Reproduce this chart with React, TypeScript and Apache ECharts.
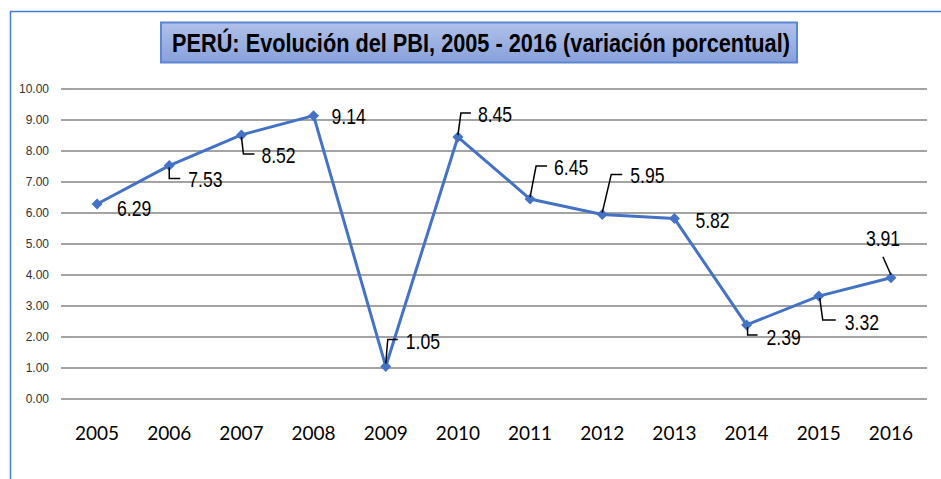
import React, { useEffect, useRef } from "react";
import * as echarts from "echarts";

const years = ["2005", "2006", "2007", "2008", "2009", "2010", "2011", "2012", "2013", "2014", "2015", "2016"];
const pbiGrowth = [6.29, 7.53, 8.52, 9.14, 1.05, 8.45, 6.45, 5.95, 5.82, 2.39, 3.32, 3.91];
const yTicks = { min: 0, max: 10, interval: 1 };
const titleText = "PERÚ: Evolución del PBI, 2005 - 2016 (variación porcentual)";

// label placement relative to the marker (style only): text left/middle offset and leader polyline
const labelPlacement: { dx: number; dy: number; leader: number[][] | null }[] = [
  { dx: 20, dy: 4, leader: null },
  { dx: 19, dy: 14, leader: [[0, 2], [0, 13], [11, 13]] },
  { dx: 20, dy: 20, leader: [[0, 2], [2, 19], [13, 19]] },
  { dx: 18, dy: 1, leader: null },
  { dx: 20, dy: -25, leader: [[0, -3], [2, -27], [12, -27]] },
  { dx: 20, dy: -23, leader: [[0, -2], [3, -24], [13, -24]] },
  { dx: 24, dy: -32, leader: [[0, -2], [6, -33], [17, -33]] },
  { dx: 28, dy: -39, leader: [[0, -2], [9, -40], [20, -40]] },
  { dx: 21, dy: 2, leader: null },
  { dx: 20, dy: 12, leader: [[1, 2], [1, 10], [11, 10]] },
  { dx: 26, dy: 26, leader: [[1, 2], [4, 24], [17, 24]] },
  { dx: -25, dy: -40, leader: [[0, -3], [-8, -21]] },
];

const SANS = "'Liberation Sans', Arial, sans-serif";

export default function App() {
  const ref = useRef<HTMLDivElement>(null);
  useEffect(() => {
    if (!ref.current) return;
    const chart = echarts.init(ref.current, null, { renderer: "svg" });
    chart.setOption({
      animation: false,
      backgroundColor: "#ffffff",
      grid: { left: 61, right: 14, top: 89, bottom: 80, containLabel: false },
      xAxis: {
        type: "category",
        data: years,
        boundaryGap: true,
        axisLine: { show: false },
        axisTick: { show: false },
        axisLabel: { color: "#000000", fontFamily: "Lato, 'Open Sans', sans-serif", fontSize: 19, margin: 24 },
      },
      yAxis: {
        type: "value",
        min: yTicks.min,
        max: yTicks.max,
        interval: yTicks.interval,
        axisLine: { show: false },
        axisTick: { show: false },
        axisLabel: {
          color: "#333333",
          fontFamily: SANS,
          fontSize: 12,
          margin: 12,
          formatter: (v: number) => v.toFixed(2),
        },
        splitLine: { lineStyle: { color: "#a3a3a3", width: 2 } },
      },
      series: [
        {
          type: "line",
          data: pbiGrowth,
          symbol: "diamond",
          symbolSize: 11,
          lineStyle: { color: "#4472c4", width: 3 },
          itemStyle: { color: "#4472c4" },
          z: 3,
        },
        {
          type: "custom",
          data: pbiGrowth.map((v, i) => [i, v]),
          encode: { x: 0, y: 1 },
          z: 4,
          silent: true,
          renderItem: (params: any, api: any) => {
            const i = params.dataIndex;
            const v = api.value(1);
            const p = api.coord([api.value(0), v]);
            const pl = labelPlacement[i];
            const children: any[] = [
              {
                type: "text",
                x: p[0] + pl.dx,
                y: p[1] + pl.dy,
                scaleX: 0.8,
                style: {
                  text: (v as number).toFixed(2),
                  fontSize: 22,
                  fontFamily: SANS,
                  fill: "#000000",
                  align: "left",
                  verticalAlign: "middle",
                },
              },
            ];
            if (pl.leader) {
              children.push({
                type: "polyline",
                shape: { points: pl.leader.map((q) => [p[0] + q[0], p[1] + q[1]]) },
                style: { stroke: "#000000", lineWidth: 1.5, fill: null },
              });
            }
            return { type: "group", children };
          },
        },
      ],
      graphic: [
        {
          type: "rect",
          left: 8,
          top: 9,
          shape: { x: 0, y: 0, width: 1000, height: 1000 },
          style: { fill: "none", stroke: "#4a7bd0", lineWidth: 1.5 },
          silent: true,
        },
        {
          type: "rect",
          shape: { x: 161, y: 22.5, width: 636, height: 40 },
          style: {
            fill: new echarts.graphic.LinearGradient(0, 0, 0, 1, [
              { offset: 0, color: "#b0c1ea" },
              { offset: 1, color: "#88a1da" },
            ]),
            stroke: "#5b86d3",
            lineWidth: 2,
          },
          z: 10,
        },
        {
          type: "text",
          x: 481,
          y: 43,
          scaleX: 0.82,
          style: {
            text: titleText,
            fontSize: 26.5,
            fontWeight: "bold",
            fontFamily: SANS,
            fill: "#000000",
            align: "center",
            verticalAlign: "middle",
          },
          z: 11,
        },
      ],
    });
    return () => chart.dispose();
  }, []);
  return <div ref={ref} style={{ position: "absolute", left: 0, top: 0, width: 941, height: 479 }} />;
}
